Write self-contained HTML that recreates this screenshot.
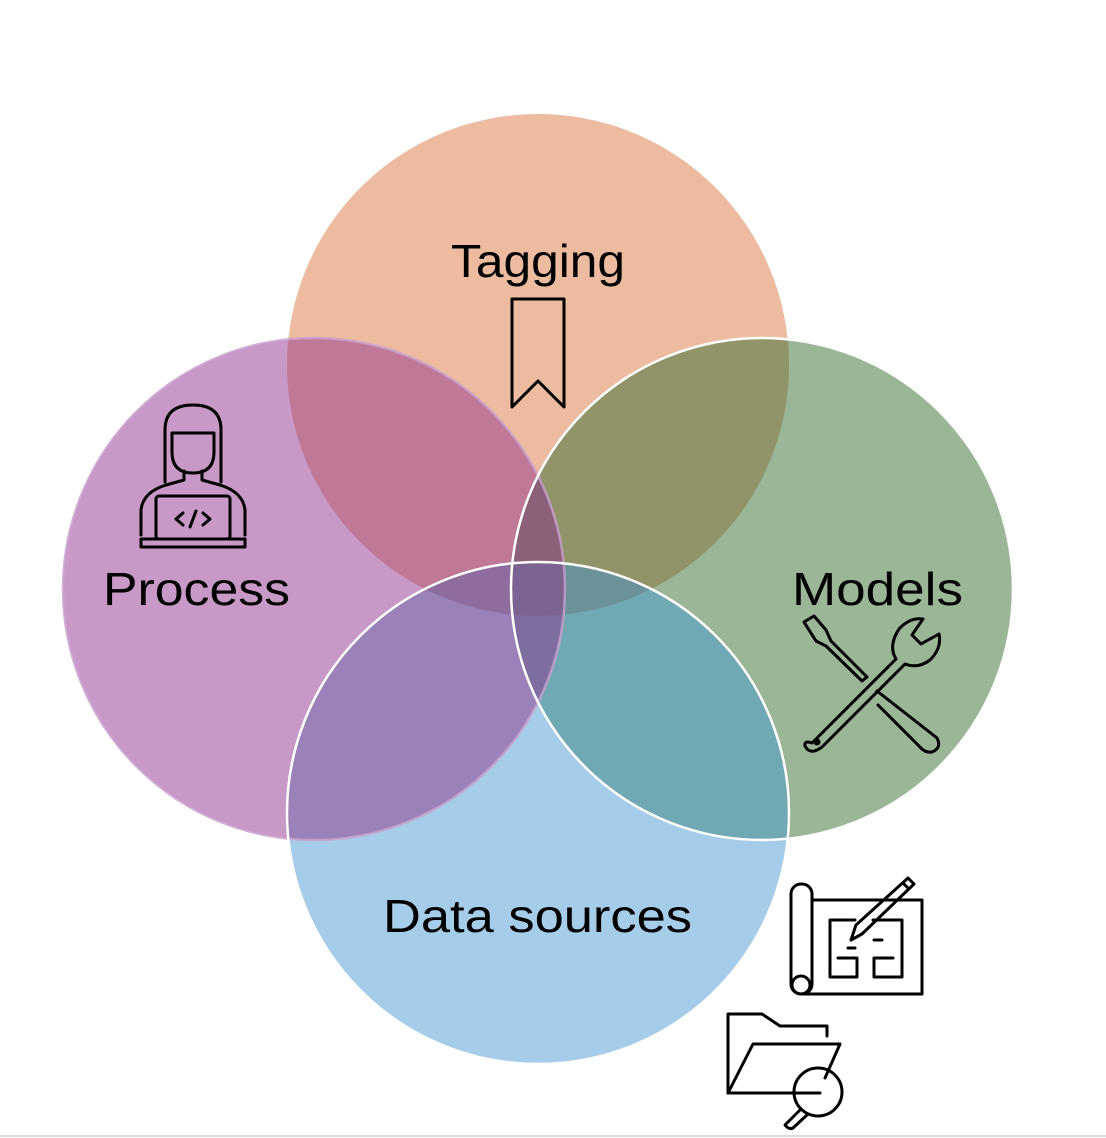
<!DOCTYPE html>
<html><head><meta charset="utf-8"><style>
html,body{margin:0;padding:0;background:#fff;width:1106px;height:1138px;overflow:hidden}
text{font-family:"Liberation Sans","DejaVu Sans",sans-serif;fill:#000}
</style></head><body>
<svg width="1106" height="1138" viewBox="0 0 1106 1138" xmlns="http://www.w3.org/2000/svg">
<defs>
<clipPath id="cT"><circle cx="538" cy="365" r="251"/></clipPath>
<clipPath id="cP"><circle cx="314" cy="589" r="251"/></clipPath>
<clipPath id="cM"><circle cx="762" cy="589" r="251"/></clipPath>
<clipPath id="cD"><circle cx="538" cy="813" r="251"/></clipPath>
</defs>
<circle cx="538" cy="365" r="251" fill="#ecbba0"/>
<circle cx="314" cy="589" r="251" fill="#c899c7"/>
<circle cx="762" cy="589" r="251" fill="#9bb597"/>
<circle cx="538" cy="813" r="251" fill="#a5cce8"/>
<!-- pairs -->
<g clip-path="url(#cT)"><circle cx="314" cy="589" r="251" fill="#bf7896"/></g>
<g clip-path="url(#cT)"><circle cx="762" cy="589" r="251" fill="#909468"/></g>
<g clip-path="url(#cP)"><circle cx="538" cy="813" r="251" fill="#9a82b9"/></g>
<g clip-path="url(#cM)"><circle cx="538" cy="813" r="251" fill="#70a9b4"/></g>
<!-- triples -->
<g clip-path="url(#cT)"><g clip-path="url(#cP)"><circle cx="762" cy="589" r="251" fill="#8d6079"/></g></g>
<g clip-path="url(#cD)"><g clip-path="url(#cP)"><circle cx="762" cy="589" r="251" fill="#7e6ea0"/></g></g>
<g clip-path="url(#cT)"><g clip-path="url(#cP)"><circle cx="538" cy="813" r="251" fill="#8e6d9e"/></g></g>
<g clip-path="url(#cT)"><g clip-path="url(#cM)"><circle cx="538" cy="813" r="251" fill="#6b9298"/></g></g>
<g clip-path="url(#cT)"><g clip-path="url(#cM)"><g clip-path="url(#cP)"><circle cx="538" cy="813" r="251" fill="#7b6392"/></g></g></g>
<!-- strokes -->
<circle cx="314" cy="589" r="251" fill="none" stroke="#c9a0cf" stroke-width="2.5" opacity="0.8"/>
<circle cx="762" cy="589" r="251" fill="none" stroke="#fff" stroke-width="2.5"/>
<circle cx="538" cy="813" r="251" fill="none" stroke="#fff" stroke-width="2.5"/>

<!-- labels -->
<text x="538" y="277" font-size="46" text-anchor="middle" textLength="174" lengthAdjust="spacingAndGlyphs">Tagging</text>
<text x="103" y="605" font-size="46" textLength="187" lengthAdjust="spacingAndGlyphs">Process</text>
<text x="792" y="605" font-size="46" textLength="171" lengthAdjust="spacingAndGlyphs">Models</text>
<text x="383" y="932" font-size="46" textLength="309" lengthAdjust="spacingAndGlyphs">Data sources</text>

<g fill="none" stroke="#000" stroke-width="3" stroke-linejoin="round" stroke-linecap="round">
<!-- bookmark -->
<path d="M512 299 H564 V407 L538 381 L512 407 Z"/>
<!-- person -->
<path d="M165 482 V430 Q165 405 193 405 Q221 405 221 430 V482"/>
<path d="M172 433 H214 V452 Q214 473 193 473 Q172 473 172 452 Z"/>
<path d="M184 471 V480 L166 485 Q143 492 141 510 V535 M202 471 V480 L220 485 Q243 492 245 510 V535"/>
<rect x="156" y="496" width="74" height="43" rx="3"/>
<path d="M141 539 H245 V547 H141 Z"/>
<path d="M183 513 L176 519 L183 525 M203 513 L210 519 L203 525 M196 511 L190 527"/>
<!-- tools -->
<path d="M804 622 L814 616 L826 630 L831 641 L867 677 L862 681 L826 646 L816 641 Z"/>
<path d="M877 691 L937 738 Q942 748 932 752 Q925 753 920 747 L878 705"/>
<path d="M812 743 L896 659 Q888 646 899 629 Q910 617 923 619 L912 635 L921 644 L939 634 Q942 648 930 660 Q918 669 905 664 L822 747 Q810 756 805 746 Q804 740 812 743 Z"/>
<circle cx="817" cy="742" r="2" fill="#000"/>
<!-- blueprint -->
<rect x="791" y="884" width="21" height="110" rx="10"/>
<circle cx="801" cy="985" r="9"/>
<path d="M812 900 H922 V994 H801"/>
<path d="M830 920 V977 H857 V958 H838 M830 920 H855 M873 920 H902 V977 H874 V958 H893 M848 948 H855 M874 940 H882"/>
<path d="M851 940 L856 925 L908 878 L914 884 L862 934 Z M903 883 L909 889"/>
<!-- folder -->
<path d="M728 1093 V1014 H762 L780 1026 H827 V1036"/>
<path d="M728 1093 L753 1044 H840 L825 1078"/>
<path d="M728 1093 H820"/>
<circle cx="818" cy="1092" r="24"/>
<path d="M801 1109 L785 1125 Q789 1130 793 1128 L808 1114"/>
</g>
<line x1="0" y1="1136" x2="1106" y2="1136" stroke="#ddd" stroke-width="2"/>
</svg>
</body></html>
